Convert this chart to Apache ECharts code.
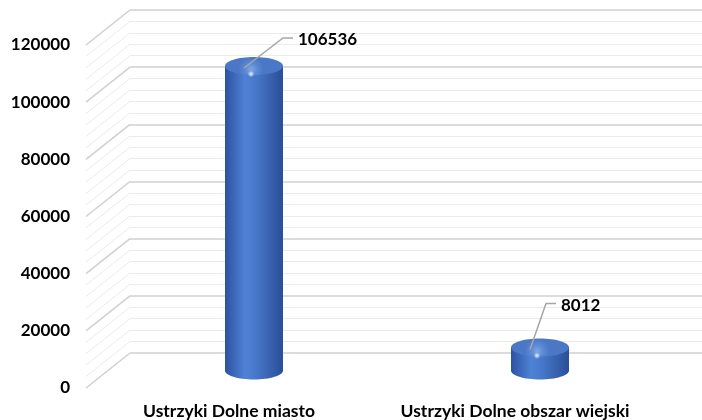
<!DOCTYPE html>
<html>
<head>
<meta charset="utf-8" />
<title>Ustrzyki Dolne</title>
<script src="https://cdn.jsdelivr.net/npm/echarts@6/dist/echarts.min.js"></script>
<style>
  html, body { margin: 0; padding: 0; background: #fff; }
  #main { width: 702px; height: 420px; }
</style>
</head>
<body>
<div id="main"></div>
<script type="text/javascript">

var categories = ['Ustrzyki Dolne miasto', 'Ustrzyki Dolne obszar wiejski'];
var values = [106536, 8012];
var yTicks = [0, 20000, 40000, 60000, 80000, 100000, 120000];

var yMin = 0, yMax = 120000, yStep = 20000, minorStep = 4000;
var depthX = 44, depthY = 35;   // perspective offset front -> back wall
var font = 'Lato, "Open Sans", sans-serif';

var myChart = echarts.init(document.getElementById('main'));

// gridline values for the diagonal lines (major + minor)
var gridValues = [];
for (var v = yMin; v <= yMax; v += minorStep) gridValues.push(v);

function cylinderFill() {
    return new echarts.graphic.LinearGradient(0, 0, 1, 0, [
        { offset: 0, color: '#2c52a0' },
        { offset: 0.35, color: '#4f82d6' },
        { offset: 0.55, color: '#4676c8' },
        { offset: 1, color: '#2a4e98' }
    ]);
}

function renderCylinder(params, api) {
    var idx = api.value(0);
    var val = api.value(1);
    var top = api.coord([idx, val]);
    var base = api.coord([idx, 0]);
    var w = 58, ry = 9;
    var cx = top[0] + 3;
    var children = [
        { type: 'rect', shape: { x: cx - w / 2, y: top[1], width: w, height: base[1] - top[1] },
          style: { fill: cylinderFill() } },
        { type: 'ellipse', shape: { cx: cx, cy: base[1], rx: w / 2, ry: ry },
          style: { fill: cylinderFill() } },
        { type: 'ellipse', shape: { cx: cx, cy: top[1], rx: w / 2, ry: ry },
          style: { fill: new echarts.graphic.RadialGradient(0.45, 0.7, 0.7, [
              { offset: 0, color: '#7fa6e4' },
              { offset: 0.5, color: '#5c89d4' },
              { offset: 1, color: '#4a78c6' }
          ]) } },
        { type: 'ellipse', shape: { cx: cx - 3, cy: top[1] + ry - 1, rx: 13, ry: 3.5 },
          style: { fill: new echarts.graphic.RadialGradient(0.5, 0.5, 0.5, [
              { offset: 0, color: 'rgba(240,247,255,1)' },
              { offset: 0.4, color: 'rgba(200,222,252,0.8)' },
              { offset: 1, color: 'rgba(160,195,245,0)' }
          ]) } }
    ];
    // leader line and value label
    var lx0 = cx - 10, ly0 = top[1] + 2;
    var lx1 = cx + (idx === 0 ? 29 : 6), ly1 = top[1] - (idx === 0 ? 28 : 44);
    children.push({
        type: 'polyline',
        shape: { points: [[lx0, ly0], [lx1, ly1], [lx1 + 10, ly1]] },
        style: { stroke: '#a6a6a6', lineWidth: 1.5, fill: null }
    });
    children.push({
        type: 'text',
        style: { x: lx1 + 15, y: ly1 + 2, text: String(val), fill: '#000',
                 font: 'bold 17px ' + font, verticalAlign: 'middle', align: 'left' }
    });
    return { type: 'group', children: children };
}

function renderDiagonal(params, api) {
    var v = api.value(0);
    var p = api.coord([0, v]);
    var x = params.coordSys.x;
    var major = v % yStep === 0;
    return {
        type: 'line',
        shape: { x1: x, y1: p[1], x2: x - depthX, y2: p[1] + depthY },
        style: { stroke: major ? '#d0d0d0' : '#ebebeb', lineWidth: major ? 1.5 : 1 }
    };
}

var option = {
    animation: false,
    backgroundColor: '#fff',
    grid: [
        { left: 86, top: 45, width: 572, height: 343 },                 // front
        { left: 86 + depthX, top: 45 - depthY, width: 572, height: 343 }, // back wall
        { left: 86 + depthX / 2, top: 45 - depthY / 2, width: 572, height: 343 } // bars
    ],
    xAxis: [
        { gridIndex: 0, type: 'category', data: categories,
          axisLine: { show: false }, axisTick: { show: false },
          axisLabel: { interval: 0, hideOverlap: false, margin: 14, color: '#000', fontFamily: font,
                       fontWeight: 'bold', fontSize: 17.5 } },
        { gridIndex: 1, type: 'category', data: categories, show: false },
        { gridIndex: 2, type: 'category', data: categories, show: false }
    ],
    yAxis: [
        { gridIndex: 0, type: 'value', min: yMin, max: yMax, interval: yStep,
          axisLine: { show: false }, axisTick: { show: false }, splitLine: { show: false },
          axisLabel: { margin: 16, color: '#000', fontFamily: font, fontWeight: 'bold', fontSize: 17,
                       formatter: function (v) { return yTicks.indexOf(v) >= 0 ? String(v) : ''; } } },
        { gridIndex: 1, type: 'value', min: yMin, max: yMax, interval: yStep,
          axisLine: { show: false }, axisTick: { show: false }, axisLabel: { show: false },
          splitLine: { show: true, lineStyle: { color: '#d0d0d0', width: 1.5 } },
          minorTick: { show: false, splitNumber: 5 },
          minorSplitLine: { show: true, lineStyle: { color: '#ebebeb', width: 1 } } },
        { gridIndex: 2, type: 'value', min: yMin, max: yMax, interval: yStep, show: false,
          splitLine: { show: false } }
    ],
    series: [
        { type: 'custom', xAxisIndex: 1, yAxisIndex: 1, renderItem: renderDiagonal,
          data: gridValues.map(function (v) { return [v]; }), encode: { y: 0 }, silent: true, z: 1 },
        { type: 'custom', xAxisIndex: 2, yAxisIndex: 2, renderItem: renderCylinder,
          data: values.map(function (v, i) { return [i, v]; }), encode: { x: 0, y: 1 }, z: 5 }
    ]
};

myChart.setOption(option);
</script>
</body>
</html>
